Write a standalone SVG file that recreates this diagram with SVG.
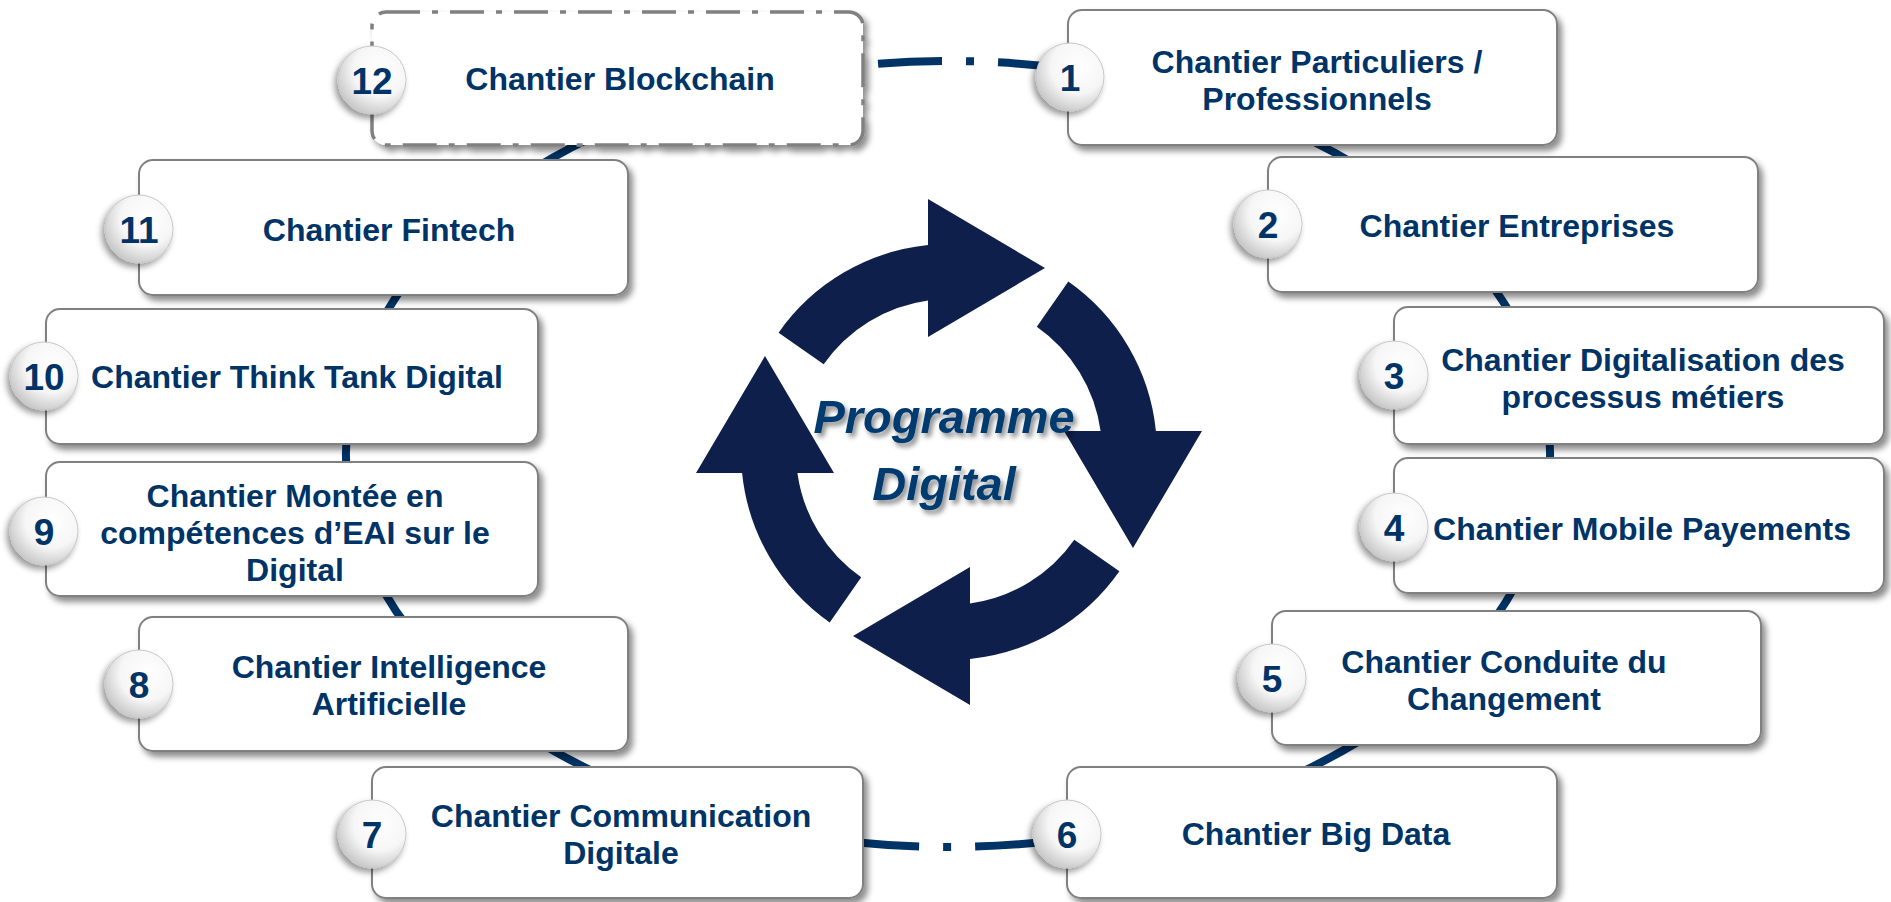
<svg xmlns="http://www.w3.org/2000/svg" xmlns:xlink="http://www.w3.org/1999/xlink" width="1891" height="902" viewBox="0 0 1891 902">
<style>
.box{fill:#ffffff;stroke:#808080;stroke-width:2;filter:url(#sh)}
.dash{stroke-width:3.5;stroke-dasharray:34 12 6 12}
.badge{fill:url(#bg);stroke:#c8c8c8;stroke-width:1;filter:url(#bsh)}
.t{font-family:"Liberation Sans",Arial,sans-serif;font-weight:bold;font-size:32px;fill:#003366;text-anchor:middle}
.n{font-family:"Liberation Sans",Arial,sans-serif;font-weight:bold;font-size:37px;fill:#003366;text-anchor:middle}
.link{fill:none;stroke:#003366;stroke-width:8}
.dd{stroke-dasharray:64 24 8 24}
.ttl{font-family:"Liberation Sans",Arial,sans-serif;font-weight:bold;font-style:italic;font-size:47px;fill:#003a70;text-anchor:middle;filter:url(#tsh)}
.arr{fill:#0d1f4a}
</style>
<defs>
<filter id="sh" x="-10%" y="-15%" width="125%" height="140%"><feDropShadow dx="4" dy="5" stdDeviation="3" flood-color="#000" flood-opacity="0.45"/></filter>
<filter id="bsh" x="-40%" y="-40%" width="180%" height="180%"><feDropShadow dx="-3" dy="4" stdDeviation="3" flood-color="#000" flood-opacity="0.4"/></filter>
<filter id="tsh" x="-10%" y="-20%" width="120%" height="150%"><feDropShadow dx="3" dy="4" stdDeviation="2.5" flood-color="#000" flood-opacity="0.45"/></filter>
<radialGradient id="bg" cx="0.62" cy="0.35" r="0.72"><stop offset="0" stop-color="#ffffff"/><stop offset="0.55" stop-color="#f6f6f6"/><stop offset="1" stop-color="#c2c2c2"/></radialGradient>
<path id="arrow" d="M -170.4 -119.3 A 208 208 0 0 1 -21 -206.9 L -21 -253 L 96 -184 L -21 -115 L -21 -151.6 A 153 153 0 0 0 -125.3 -87.8 Z"/>
</defs>
<rect width="1891" height="902" fill="#ffffff"/>

<g id="connectors">
<path class="link dd" stroke-dashoffset="19" d="M 778 77 A 602 393 0 0 1 1118 77"/>
<path class="link" d="M 1118 77 A 602 393 0 0 1 1436.1 224"/>
<path class="link" d="M 1436.1 224 A 602 393 0 0 1 1537.7 375"/>
<path class="link" d="M 1537.7 375 A 602 393 0 0 1 1539.5 527"/>
<path class="link" d="M 1539.5 527 A 602 393 0 0 1 1442.6 678"/>
<path class="link" d="M 1442.6 678 A 602 393 0 0 1 1101.6 834"/>
<path class="link dd" stroke-dashoffset="56.8" d="M 1101.6 834 A 602 393 0 0 1 794.4 834"/>
<path class="link" d="M 794.4 834 A 602 393 0 0 1 459.9 684"/>
<path class="link" d="M 459.9 684 A 602 393 0 0 1 357.7 531"/>
<path class="link" d="M 357.7 531 A 602 393 0 0 1 358 376"/>
<path class="link" d="M 358 376 A 602 393 0 0 1 454.4 229"/>
<path class="link" d="M 454.4 229 A 602 393 0 0 1 778 77"/>
</g>

<g id="cycle" transform="translate(949 452)">
<use xlink:href="#arrow" class="arr"/>
<use xlink:href="#arrow" class="arr" transform="rotate(90)"/>
<use xlink:href="#arrow" class="arr" transform="rotate(180)"/>
<use xlink:href="#arrow" class="arr" transform="rotate(270)"/>
</g>
<g id="title">
<text class="ttl" x="944" y="433">Programme</text>
<text class="ttl" x="944" y="500">Digital</text>
</g>

<g id="node12">
<rect class="box dash" x="372" y="12" width="491" height="133" rx="14"/>
<text class="t" x="620" y="89.5">Chantier Blockchain</text>
<circle class="badge" cx="372" cy="80" r="34"/>
<text class="n" x="372" y="94">12</text>
</g>
<g id="node1">
<rect class="box" x="1068" y="10" width="489" height="135" rx="14"/>
<text class="t" x="1317" y="72.5">Chantier Particuliers /</text>
<text class="t" x="1317" y="109.5">Professionnels</text>
<circle class="badge" cx="1070" cy="77" r="34"/>
<text class="n" x="1070" y="91">1</text>
</g>
<g id="node2">
<rect class="box" x="1268" y="157" width="490" height="135" rx="14"/>
<text class="t" x="1517" y="236.5">Chantier Entreprises</text>
<circle class="badge" cx="1268" cy="224" r="34"/>
<text class="n" x="1268" y="238">2</text>
</g>
<g id="node3">
<rect class="box" x="1394" y="307" width="490" height="137" rx="14"/>
<text class="t" x="1643" y="370.5">Chantier Digitalisation des</text>
<text class="t" x="1643" y="407.5">processus métiers</text>
<circle class="badge" cx="1394" cy="375" r="34"/>
<text class="n" x="1394" y="389">3</text>
</g>
<g id="node4">
<rect class="box" x="1394" y="458" width="490" height="135" rx="14"/>
<text class="t" x="1642" y="539.5">Chantier Mobile Payements</text>
<circle class="badge" cx="1394" cy="527" r="34"/>
<text class="n" x="1394" y="541">4</text>
</g>
<g id="node5">
<rect class="box" x="1272" y="611" width="489" height="134" rx="14"/>
<text class="t" x="1504" y="672.5">Chantier Conduite du</text>
<text class="t" x="1504" y="709.5">Changement</text>
<circle class="badge" cx="1272" cy="678" r="34"/>
<text class="n" x="1272" y="692">5</text>
</g>
<g id="node6">
<rect class="box" x="1067" y="767" width="490" height="131" rx="14"/>
<text class="t" x="1316" y="845">Chantier Big Data</text>
<circle class="badge" cx="1067" cy="834" r="34"/>
<text class="n" x="1067" y="848">6</text>
</g>
<g id="node7">
<rect class="box" x="372" y="767" width="491" height="131" rx="14"/>
<text class="t" x="621" y="827">Chantier Communication</text>
<text class="t" x="621" y="864">Digitale</text>
<circle class="badge" cx="372" cy="834" r="34"/>
<text class="n" x="372" y="848">7</text>
</g>
<g id="node8">
<rect class="box" x="139" y="617" width="489" height="134" rx="14"/>
<text class="t" x="389" y="677.5">Chantier Intelligence</text>
<text class="t" x="389" y="714.5">Artificielle</text>
<circle class="badge" cx="139" cy="684" r="34"/>
<text class="n" x="139" y="698">8</text>
</g>
<g id="node9">
<rect class="box" x="46" y="462" width="492" height="134" rx="14"/>
<text class="t" x="295" y="506.5">Chantier Montée en</text>
<text class="t" x="295" y="543.5">compétences d’EAI sur le</text>
<text class="t" x="295" y="580.5">Digital</text>
<circle class="badge" cx="44" cy="531" r="34"/>
<text class="n" x="44" y="545">9</text>
</g>
<g id="node10">
<rect class="box" x="46" y="309" width="492" height="135" rx="14"/>
<text class="t" x="297" y="387.5">Chantier Think Tank Digital</text>
<circle class="badge" cx="44" cy="376" r="34"/>
<text class="n" x="44" y="390">10</text>
</g>
<g id="node11">
<rect class="box" x="139" y="160" width="489" height="135" rx="14"/>
<text class="t" x="389" y="240.5">Chantier Fintech</text>
<circle class="badge" cx="139" cy="229" r="34"/>
<text class="n" x="139" y="243">11</text>
</g>
</svg>
